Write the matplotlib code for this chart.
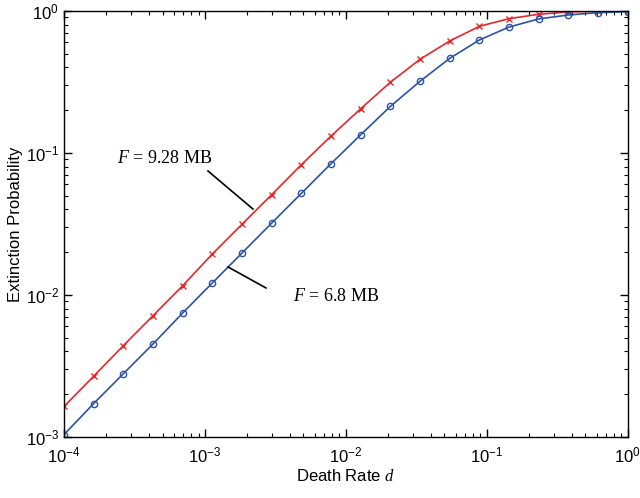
import numpy as np
import matplotlib
matplotlib.use("Agg")
import matplotlib.pyplot as plt

plt.rcParams['font.family'] = ['Liberation Sans', 'DejaVu Sans']
plt.rcParams['mathtext.fontset'] = 'custom'
plt.rcParams['mathtext.rm'] = 'Liberation Serif'
plt.rcParams['mathtext.it'] = 'Liberation Serif:italic'

death_rate = np.logspace(-4, 0, 20)
p_928 = [1.64e-3, 2.68e-3, 4.40e-3, 7.15e-3, 0.01163, 0.01945, 0.0315, 0.0509,
         0.0827, 0.1317, 0.205, 0.315, 0.457, 0.615, 0.780, 0.883, 0.948, 0.984,
         0.995, 1.0]
p_68 = [1.04e-3, 1.72e-3, 2.79e-3, 4.52e-3, 7.47e-3, 0.01216, 0.01977, 0.0321,
        0.052, 0.0841, 0.1345, 0.213, 0.320, 0.464, 0.625, 0.771, 0.879, 0.937,
        0.973, 0.99]

fig = plt.figure(figsize=(6.4, 4.98), dpi=100)
ax = fig.add_axes([0.1, 0.1225, 0.881, 0.8555])

ax.plot(death_rate, p_928, color='#e8262a', lw=1.2, marker='x', ms=5, mew=1.0)
ax.plot(death_rate, p_68, color='#2a52a8', lw=1.2, marker='o', ms=4.5, mew=1.0,
        mfc='none')

ax.set_xscale('log')
ax.set_yscale('log')
ax.set_xlim(1e-4, 1)
ax.set_ylim(1e-3, 1)

ax.tick_params(which='both', direction='in', top=True, right=True, labelsize=12)
ax.tick_params(which='major', length=6, width=1)
ax.tick_params(which='minor', length=3, width=0.8)
ax.tick_params(axis='x', pad=6)
for s in ax.spines.values():
    s.set_linewidth(1.0)

ax.set_xlabel('Death Rate $d$', fontsize=12, labelpad=2)
ax.set_ylabel('Extinction Probability', fontsize=12, labelpad=2)

# annotation labels with leader lines
ax.text(5.2e-4, 0.0907, '$F$ = 9.28 MB', fontsize=13, family='Liberation Serif',
        ha='center', va='center')
ax.plot([1.05e-3, 2.19e-3], [0.0747, 0.0403], color='black', lw=1.2)
ax.text(8.5e-3, 0.00968, '$F$ = 6.8 MB', fontsize=13, family='Liberation Serif',
        ha='center', va='center')
ax.plot([1.46e-3, 2.71e-3], [0.01574, 0.0112], color='black', lw=1.2)

fig.savefig('out.png', dpi=100)
